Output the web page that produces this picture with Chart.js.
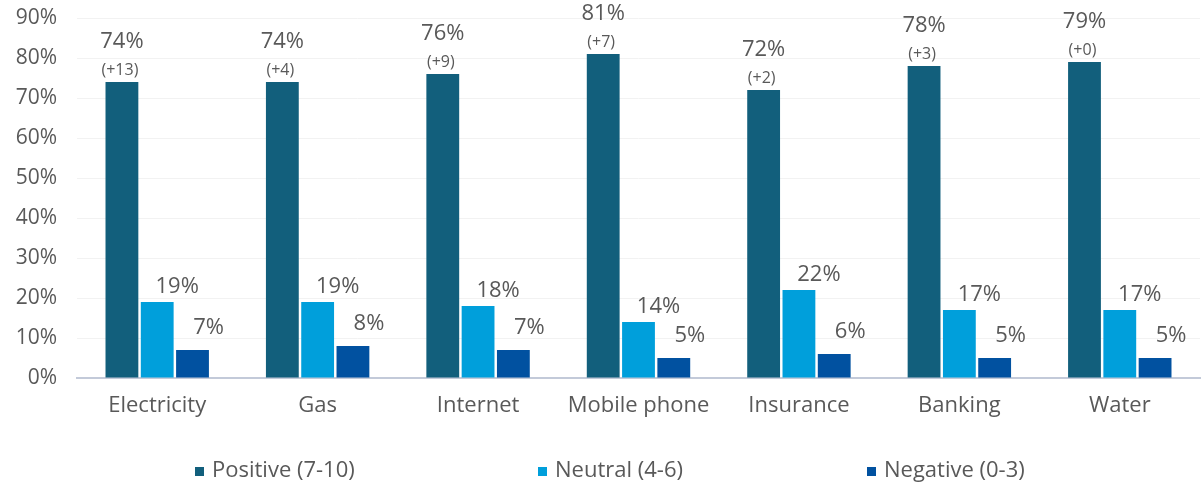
<!DOCTYPE html>
<html><head><meta charset="utf-8">
<script src="https://cdn.jsdelivr.net/npm/chart.js@4"></script>
<style>html,body{margin:0;padding:0;background:#fff}#wrap{width:1203px;height:488px}</style>
</head><body><div id="wrap"><canvas id="c" width="1203" height="488"></canvas></div>
<script>
const categories = ["Electricity","Gas","Internet","Mobile phone","Insurance","Banking","Water"];
const positive = [74,74,76,81,72,78,79];
const neutral = [19,19,18,14,22,17,17];
const negative = [7,8,7,5,6,5,5];
const positiveChange = ["(+13)","(+4)","(+9)","(+7)","(+2)","(+3)","(+0)"];
const seriesNames = ["Positive (7-10)","Neutral (4-6)","Negative (0-3)"];
const seriesColors = ["#125f7c","#009fdb","#0151a0"];
const yTicks = [0,10,20,30,40,50,60,70,80,90];

const FONT = "'Open Sans', Lato, sans-serif";
const TXT = "#595959";

const labelPlugin = {
  id:'labels',
  afterDatasetsDraw(chart){
    const ctx = chart.ctx;
    ctx.save();
    ctx.fillStyle = TXT;
    ctx.textAlign = 'center';
    ctx.textBaseline = 'middle';
    chart.data.datasets.forEach((ds, di) => {
      const meta = chart.getDatasetMeta(di);
      meta.data.forEach((bar, i) => {
        const v = ds.data[i];
        if (di === 0) {
          ctx.font = "22px " + FONT;
          ctx.fillText(v + "%", bar.x, bar.y - 40);
          ctx.font = "16px " + FONT;
          ctx.fillText(positiveChange[i], bar.x - 2, bar.y - 12);
        } else if (di === 1) {
          ctx.font = "22px " + FONT;
          ctx.fillText(v + "%", bar.x + 20, bar.y - 15);
        } else {
          ctx.font = "22px " + FONT;
          ctx.fillText(v + "%", bar.x + 16, bar.y - 22);
        }
      });
    });
    ctx.restore();
  }
};

// legend drawn from the dataset list, laid out as in the reference
const legendPlugin = {
  id:'customLegend',
  afterDraw(chart){
    const ctx = chart.ctx;
    const starts = [195, 538, 867];
    const y = 471;
    ctx.save();
    ctx.font = "22px " + FONT;
    ctx.textBaseline = 'middle';
    ctx.textAlign = 'left';
    chart.data.datasets.forEach((ds, i) => {
      ctx.fillStyle = ds.backgroundColor;
      ctx.fillRect(starts[i], y - 4, 9, 9);
      ctx.fillStyle = TXT;
      ctx.fillText(ds.label, starts[i] + 17, y);
    });
    ctx.restore();
  }
};

new Chart(document.getElementById('c'), {
  type: 'bar',
  data: {
    labels: categories,
    datasets: seriesNames.map((n, i) => ({
      label: n,
      data: [positive, neutral, negative][i],
      backgroundColor: seriesColors[i]
    }))
  },
  options: {
    responsive: false,
    animation: false,
    layout: {padding: {top: 18, right: 3, left: 0, bottom: 0}},
    datasets: {bar: {categoryPercentage: 0.66, barPercentage: 0.93}},
    scales: {
      x: {
        afterFit(axis){ axis.height = 110; axis.paddingLeft = 0; axis.paddingRight = 0; },
        grid: {display: false, drawTicks: false},
        border: {color: '#c3cad9', width: 2},
        ticks: {color: TXT, font: {family: FONT, size: 22}, padding: 15, maxRotation: 0}
      },
      y: {
        min: 0, max: 90,
        afterBuildTicks(axis){ axis.ticks = yTicks.map(v => ({value: v})); },
        afterFit(axis){ axis.width = 77; axis.paddingTop = 0; axis.paddingBottom = 0; },
        grid: {color: '#f2f2f2', drawTicks: false},
        border: {display: false},
        ticks: {color: TXT, font: {family: FONT, size: 21}, padding: 20, autoSkip: false, callback: v => v + "%"}
      }
    },
    plugins: {
      legend: {display: false},
      tooltip: {enabled: false}
    }
  },
  plugins: [labelPlugin, legendPlugin]
});
</script></body></html>
